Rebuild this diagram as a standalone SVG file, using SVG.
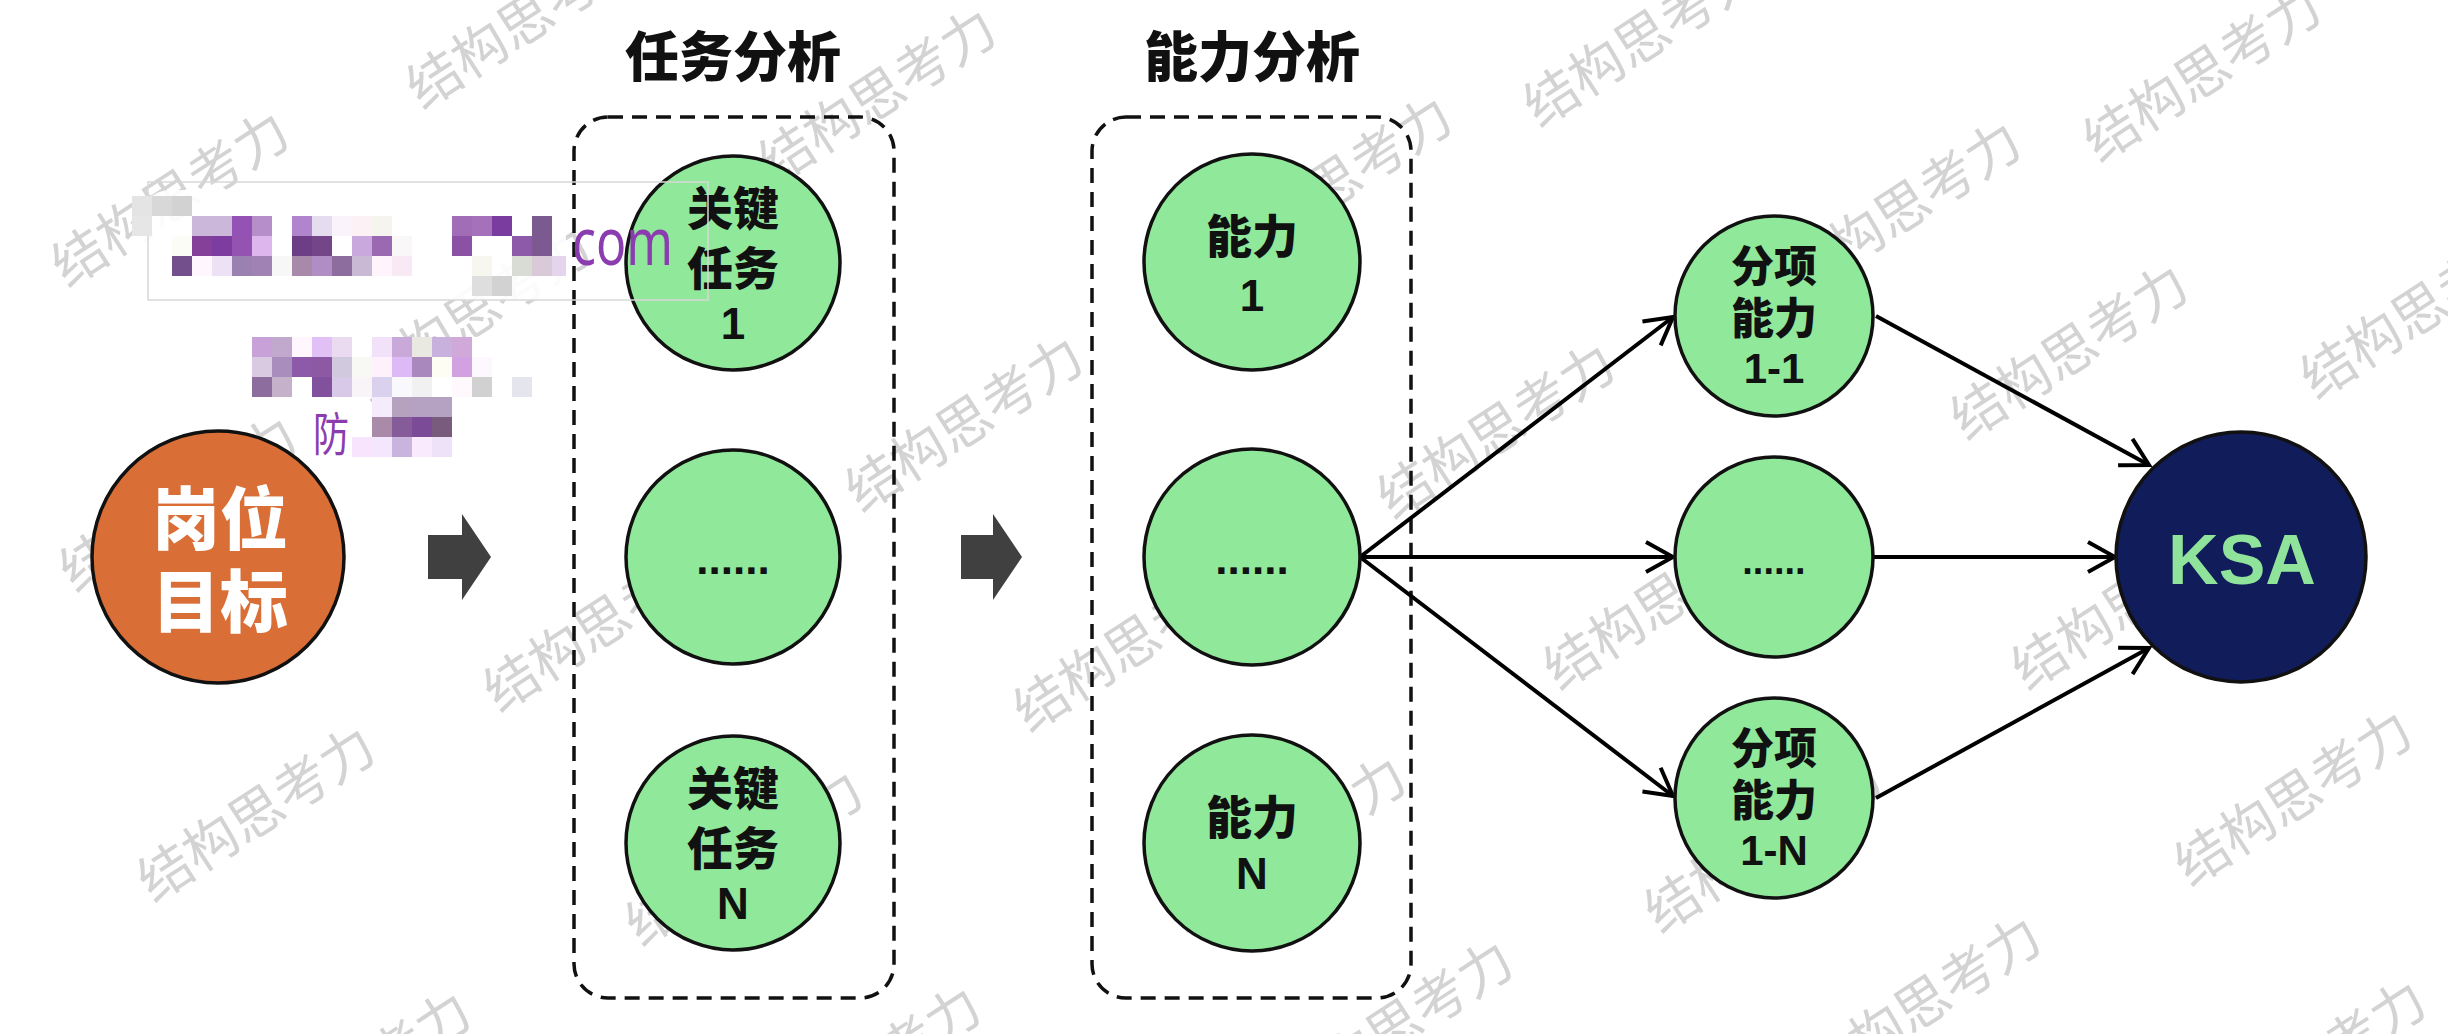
<svg xmlns="http://www.w3.org/2000/svg" width="2448" height="1034" viewBox="0 0 2448 1034">
<style>
.wm{font-family:"Noto Sans CJK SC","Noto Sans",sans-serif;font-size:54px;fill:#d3d3d3;text-anchor:middle;dominant-baseline:central}
.title{font-family:"Noto Sans CJK SC",sans-serif;font-weight:900;font-size:54px;fill:#111;text-anchor:middle}
.g{fill:#90e89a;stroke:#111;stroke-width:3.5}
.cj{font-family:"Noto Sans CJK SC",sans-serif;font-weight:900;font-size:46px;fill:#111;text-anchor:middle}
.cs{font-family:"Noto Sans CJK SC",sans-serif;font-weight:900;font-size:43px;fill:#111;text-anchor:middle}
.la{font-family:"Liberation Sans",Arial,sans-serif;font-weight:bold;font-size:44px;fill:#111;text-anchor:middle}
.ls{font-family:"Liberation Sans",Arial,sans-serif;font-weight:bold;font-size:42px;fill:#111;text-anchor:middle}
.box{fill:none;stroke:#111;stroke-width:3.5;stroke-dasharray:15 9}
.blk{fill:#404040}
.con{stroke:#000;stroke-width:4;fill:none;marker-end:url(#ah)}
.pur{font-family:"Noto Sans","Noto Sans CJK SC",sans-serif;fill:#8b3db0}
</style>
<defs>
<marker id="ah" markerUnits="userSpaceOnUse" markerWidth="34" markerHeight="36" refX="30" refY="18" orient="auto">
<path d="M3,3 L30,18 L3,33" fill="none" stroke="#000" stroke-width="4" stroke-linejoin="miter"/>
</marker>
</defs>
<rect width="2448" height="1034" fill="#fff"/>
<g id="watermarks">
<text class="wm" transform="translate(523,17) rotate(-33)">结构思考力</text>
<text class="wm" transform="translate(168,195) rotate(-33)">结构思考力</text>
<text class="wm" transform="translate(875,92) rotate(-33)">结构思考力</text>
<text class="wm" transform="translate(470,310) rotate(-33)">结构思考力</text>
<text class="wm" transform="translate(176,500) rotate(-33)">结构思考力</text>
<text class="wm" transform="translate(962,420) rotate(-33)">结构思考力</text>
<text class="wm" transform="translate(254,810) rotate(-33)">结构思考力</text>
<text class="wm" transform="translate(600,620) rotate(-33)">结构思考力</text>
<text class="wm" transform="translate(742,854) rotate(-33)">结构思考力</text>
<text class="wm" transform="translate(1130,640) rotate(-33)">结构思考力</text>
<text class="wm" transform="translate(1331,180) rotate(-33)">结构思考力</text>
<text class="wm" transform="translate(1285,840) rotate(-33)">结构思考力</text>
<text class="wm" transform="translate(1494,427) rotate(-33)">结构思考力</text>
<text class="wm" transform="translate(1640,35) rotate(-33)">结构思考力</text>
<text class="wm" transform="translate(1900,205) rotate(-33)">结构思考力</text>
<text class="wm" transform="translate(2200,70) rotate(-33)">结构思考力</text>
<text class="wm" transform="translate(2067,348) rotate(-33)">结构思考力</text>
<text class="wm" transform="translate(2417,307) rotate(-33)">结构思考力</text>
<text class="wm" transform="translate(1660,598) rotate(-33)">结构思考力</text>
<text class="wm" transform="translate(2128,598) rotate(-33)">结构思考力</text>
<text class="wm" transform="translate(1761,841) rotate(-33)">结构思考力</text>
<text class="wm" transform="translate(2291,794) rotate(-33)">结构思考力</text>
<text class="wm" transform="translate(1392,1024) rotate(-33)">结构思考力</text>
<text class="wm" transform="translate(1920,1000) rotate(-33)">结构思考力</text>
<text class="wm" transform="translate(2305,1064) rotate(-33)">结构思考力</text>
<text class="wm" transform="translate(350,1075) rotate(-33)">结构思考力</text>
<text class="wm" transform="translate(860,1070) rotate(-33)">结构思考力</text>
</g>
<g id="titles">
<text class="title" x="733" y="77">任务分析</text>
<text class="title" x="1252" y="77">能力分析</text>
</g>
<g id="groups">
<rect id="task-box" class="box" x="574" y="117" width="320" height="881" rx="34"/>
<rect id="ability-box" class="box" x="1092" y="117" width="319" height="881" rx="34"/>
</g>
<g id="connectors">
<polygon id="step1" class="blk" points="428,535 462,535 462,514 491,557 462,600 462,579 428,579"/>
<polygon id="step2" class="blk" points="961,535 993,535 993,514 1022,557 993,600 993,579 961,579"/>
<line class="con" x1="1360" y1="557" x2="1673" y2="317"/>
<line class="con" x1="1360" y1="557" x2="1673" y2="557"/>
<line class="con" x1="1360" y1="557" x2="1673" y2="796"/>
<line class="con" x1="1876" y1="316" x2="2149" y2="465"/>
<line class="con" x1="1873" y1="557" x2="2115" y2="557"/>
<line class="con" x1="1876" y1="798" x2="2149" y2="648"/>
</g>
<g id="goal">
<circle cx="218" cy="557" r="126" fill="#d96f36" stroke="#111" stroke-width="3.5"/>
<text class="cj" x="220" y="544" style="font-size:68px;fill:#fff">岗位</text>
<text class="cj" x="220" y="627" style="font-size:68px;fill:#fff">目标</text>
</g>
<g id="task-1">
<circle class="g" cx="733" cy="263" r="107"/>
<text class="cj" x="733" y="225">关键</text>
<text class="cj" x="733" y="285">任务</text>
<text class="la" x="733" y="339">1</text>
</g>
<g id="task-mid">
<circle class="g" cx="733" cy="557" r="107"/>
<text class="la" x="733" y="574">......</text>
</g>
<g id="task-n">
<circle class="g" cx="733" cy="843" r="107"/>
<text class="cj" x="733" y="805">关键</text>
<text class="cj" x="733" y="865">任务</text>
<text class="la" x="733" y="919">N</text>
</g>
<g id="ability-1">
<circle class="g" cx="1252" cy="262" r="108"/>
<text class="cj" x="1252" y="253">能力</text>
<text class="la" x="1252" y="311">1</text>
</g>
<g id="ability-mid">
<circle class="g" cx="1252" cy="557" r="108"/>
<text class="la" x="1252" y="574">......</text>
</g>
<g id="ability-n">
<circle class="g" cx="1252" cy="843" r="108"/>
<text class="cj" x="1252" y="834">能力</text>
<text class="la" x="1252" y="889">N</text>
</g>
<g id="sub-1-1">
<ellipse class="g" cx="1774" cy="316" rx="99" ry="100"/>
<text class="cs" x="1774" y="282">分项</text>
<text class="cs" x="1774" y="334">能力</text>
<text class="ls" x="1774" y="383">1-1</text>
</g>
<g id="sub-mid">
<ellipse class="g" cx="1774" cy="557" rx="99" ry="100"/>
<text class="ls" x="1774" y="574" style="font-size:38px">......</text>
</g>
<g id="sub-1-n">
<ellipse class="g" cx="1774" cy="798" rx="99" ry="100"/>
<text class="cs" x="1774" y="764">分项</text>
<text class="cs" x="1774" y="816">能力</text>
<text class="ls" x="1774" y="865">1-N</text>
</g>
<g id="ksa">
<circle cx="2241" cy="557" r="125" fill="#111c5b" stroke="#111" stroke-width="3.5"/>
<text class="la" x="2242" y="584" style="font-size:70px;fill:#90e39b">KSA</text>
</g>
<g id="redaction">
<rect x="140" y="190" width="426" height="110" rx="30" fill="#fff" opacity="0.9"/>
<rect x="148" y="182" width="560" height="118" fill="none" stroke="#d8d8d8" stroke-width="1.5"/>
<rect x="132" y="196" width="20" height="20" fill="#e4e4e4"/>
<rect x="152" y="196" width="20" height="20" fill="#d8d8d8"/>
<rect x="172" y="196" width="20" height="20" fill="#d2d2d2"/>
<rect x="132" y="216" width="20" height="20" fill="#e6e6e6"/>
<rect x="192" y="216" width="20" height="20" fill="#cbb7da"/>
<rect x="212" y="216" width="20" height="20" fill="#cbb7da"/>
<rect x="232" y="216" width="20" height="20" fill="#9552b5"/>
<rect x="252" y="216" width="20" height="20" fill="#b68ec9"/>
<rect x="292" y="216" width="20" height="20" fill="#b185cd"/>
<rect x="312" y="216" width="20" height="20" fill="#e6dcef"/>
<rect x="332" y="216" width="20" height="20" fill="#fbf3fb"/>
<rect x="352" y="216" width="20" height="20" fill="#fcf2f6"/>
<rect x="372" y="216" width="20" height="20" fill="#f6f4ee"/>
<rect x="452" y="216" width="20" height="20" fill="#a16db6"/>
<rect x="472" y="216" width="20" height="20" fill="#a571ba"/>
<rect x="492" y="216" width="20" height="20" fill="#7a3d9f"/>
<rect x="532" y="216" width="20" height="20" fill="#7b5a8f"/>
<rect x="172" y="236" width="20" height="20" fill="#fcfcf6"/>
<rect x="192" y="236" width="20" height="20" fill="#854199"/>
<rect x="212" y="236" width="20" height="20" fill="#7c3ca0"/>
<rect x="232" y="236" width="20" height="20" fill="#9452b1"/>
<rect x="252" y="236" width="20" height="20" fill="#dcb6ec"/>
<rect x="292" y="236" width="20" height="20" fill="#6d3d86"/>
<rect x="312" y="236" width="20" height="20" fill="#744589"/>
<rect x="352" y="236" width="20" height="20" fill="#c9a9dd"/>
<rect x="372" y="236" width="20" height="20" fill="#9b69b1"/>
<rect x="392" y="236" width="20" height="20" fill="#f9f7f7"/>
<rect x="452" y="236" width="20" height="20" fill="#8a51a5"/>
<rect x="512" y="236" width="20" height="20" fill="#8d59a9"/>
<rect x="532" y="236" width="20" height="20" fill="#7d5991"/>
<rect x="172" y="256" width="20" height="20" fill="#73508b"/>
<rect x="192" y="256" width="20" height="20" fill="#fff7fd"/>
<rect x="212" y="256" width="20" height="20" fill="#ede1f5"/>
<rect x="232" y="256" width="20" height="20" fill="#9b81b1"/>
<rect x="252" y="256" width="20" height="20" fill="#a182b5"/>
<rect x="272" y="256" width="20" height="20" fill="#f7f7f7"/>
<rect x="292" y="256" width="20" height="20" fill="#a989a9"/>
<rect x="312" y="256" width="20" height="20" fill="#b18dc5"/>
<rect x="332" y="256" width="20" height="20" fill="#8c6d9d"/>
<rect x="352" y="256" width="20" height="20" fill="#c9b9d5"/>
<rect x="372" y="256" width="20" height="20" fill="#fff4fb"/>
<rect x="392" y="256" width="20" height="20" fill="#f8e9f4"/>
<rect x="472" y="256" width="20" height="20" fill="#f7f7ef"/>
<rect x="512" y="256" width="20" height="20" fill="#d9dcd4"/>
<rect x="532" y="256" width="20" height="20" fill="#d9c9d9"/>
<rect x="552" y="256" width="14" height="20" fill="#e4d4ec"/>
<rect x="472" y="276" width="20" height="20" fill="#dedede"/>
<rect x="492" y="276" width="20" height="20" fill="#d2d2d2"/>
<rect x="252" y="337" width="20" height="20" fill="#c9a1d9"/>
<rect x="272" y="337" width="20" height="20" fill="#c1a9cd"/>
<rect x="292" y="337" width="20" height="20" fill="#fff7fd"/>
<rect x="312" y="337" width="20" height="20" fill="#e1c1f5"/>
<rect x="332" y="337" width="20" height="20" fill="#ebdbf0"/>
<rect x="372" y="337" width="20" height="20" fill="#f1e1f9"/>
<rect x="392" y="337" width="20" height="20" fill="#c9a9d9"/>
<rect x="412" y="337" width="20" height="20" fill="#e9e9e1"/>
<rect x="432" y="337" width="20" height="20" fill="#c9b1dd"/>
<rect x="452" y="337" width="20" height="20" fill="#d1a9d9"/>
<rect x="252" y="357" width="20" height="20" fill="#d9c9e1"/>
<rect x="272" y="357" width="20" height="20" fill="#a98dbd"/>
<rect x="292" y="357" width="20" height="20" fill="#8d59a9"/>
<rect x="312" y="357" width="20" height="20" fill="#8d59a5"/>
<rect x="332" y="357" width="20" height="20" fill="#d1c9dd"/>
<rect x="352" y="357" width="20" height="20" fill="#f8f8f4"/>
<rect x="372" y="357" width="20" height="20" fill="#fff1fc"/>
<rect x="392" y="357" width="20" height="20" fill="#ddb9f5"/>
<rect x="412" y="357" width="20" height="20" fill="#a989bd"/>
<rect x="432" y="357" width="20" height="20" fill="#fdfdf4"/>
<rect x="452" y="357" width="20" height="20" fill="#d1a1e1"/>
<rect x="472" y="357" width="20" height="20" fill="#fdf8fd"/>
<rect x="252" y="377" width="20" height="20" fill="#8d6d9d"/>
<rect x="272" y="377" width="20" height="20" fill="#c5b1c9"/>
<rect x="312" y="377" width="20" height="20" fill="#81519d"/>
<rect x="332" y="377" width="20" height="20" fill="#d9c9e9"/>
<rect x="352" y="377" width="20" height="20" fill="#f8f4f8"/>
<rect x="372" y="377" width="20" height="20" fill="#d9d1ed"/>
<rect x="392" y="377" width="20" height="20" fill="#f8f8fd"/>
<rect x="412" y="377" width="20" height="20" fill="#f1f1f1"/>
<rect x="452" y="377" width="20" height="20" fill="#fff8fd"/>
<rect x="472" y="377" width="20" height="20" fill="#d1d1d1"/>
<rect x="512" y="377" width="20" height="20" fill="#e5e5ed"/>
<rect x="372" y="397" width="20" height="20" fill="#f4ecfc"/>
<rect x="392" y="397" width="20" height="20" fill="#b6a2bf"/>
<rect x="412" y="397" width="20" height="20" fill="#b5a1c1"/>
<rect x="432" y="397" width="20" height="20" fill="#b5a1c1"/>
<rect x="372" y="417" width="20" height="20" fill="#a98aa9"/>
<rect x="392" y="417" width="20" height="20" fill="#855c99"/>
<rect x="412" y="417" width="20" height="20" fill="#7b4b97"/>
<rect x="432" y="417" width="20" height="20" fill="#795c7d"/>
<rect x="352" y="437" width="20" height="20" fill="#f8e4fc"/>
<rect x="372" y="437" width="20" height="20" fill="#f4e6fc"/>
<rect x="392" y="437" width="20" height="20" fill="#c8b4dc"/>
<rect x="412" y="437" width="20" height="20" fill="#faeafd"/>
<rect x="432" y="437" width="20" height="20" fill="#eee2f8"/>
<text class="pur" transform="translate(572,265) scale(1,1.3)" font-size="50">com</text>
<text class="pur" transform="translate(313,451) scale(1,1.28)" font-size="36" style="font-family:'Noto Sans CJK SC',sans-serif">防</text>
</g>
</svg>
